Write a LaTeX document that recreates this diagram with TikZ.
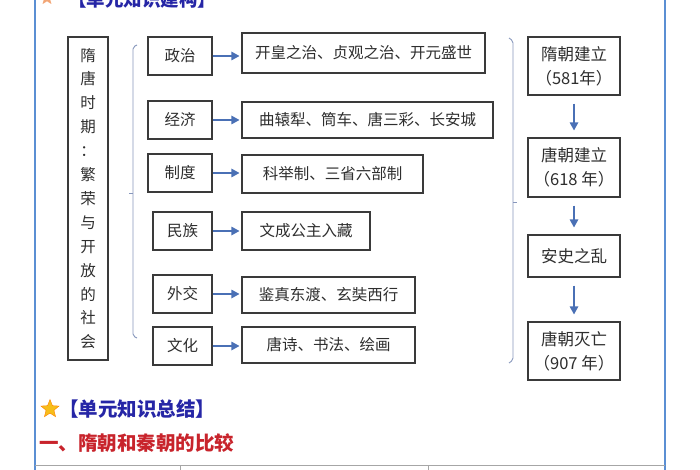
\documentclass[tikz,border=0pt]{standalone}
\usepackage{fontspec}
\usepackage{tikz}
\usetikzlibrary{arrows.meta,positioning,shapes.geometric}
\newfontfamily\cjk{Noto Sans CJK SC}
\definecolor{framebl}{HTML}{5B8FD3}
\definecolor{arrbl}{HTML}{4A70B5}
\definecolor{brkbl}{HTML}{8797BC}
\definecolor{boxgr}{HTML}{3A3A3A}
\definecolor{txtgr}{HTML}{2E2E2E}
\definecolor{headbl}{HTML}{2626A6}
\definecolor{headrd}{HTML}{C8242C}
\definecolor{stargd}{HTML}{F6BE1A}
\definecolor{staror}{HTML}{F2A676}

\begin{document}
\begin{tikzpicture}[x=1pt,y=-1pt,>={Triangle[length=8pt,width=8.5pt]},
		semithick]
		\tikzstyle{box}=[draw=boxgr,line width=1.1pt,fill=white,text=txtgr,inner sep=0pt,
			font=\cjk\fontsize{15.5}{18}\selectfont]
		\tikzstyle{kbox}=[box,minimum height=38pt,minimum width=64pt]
		\tikzstyle{cbox}=[box,minimum height=38pt]
		\tikzstyle{tbox}=[box,minimum width=92pt,align=center,
			font=\cjk\fontsize{16.5}{24}\selectfont]
		\tikzstyle{link}=[->,arrbl,line width=1.2pt,shorten >=2pt]
		\tikzstyle{brace}=[brkbl,line width=0.9pt,rounded corners=2pt]
		\tikzstyle{head}=[anchor=west,inner sep=0pt,font=\cjk\bfseries\fontsize{19.5}{22}\selectfont]
		
		\useasboundingbox (0,0) rectangle (700,470);
		\clip (0,0) rectangle (700,470);
		
		% frame
		\draw[framebl,line width=2pt] (35,0) -- (35,470);
		\draw[framebl,line width=2pt] (665,0) -- (665,470);
		
		\node[star,star point ratio=2.3,fill=staror,minimum size=15pt,inner sep=0pt] (st0) at (47,-2) {};
		\node[head,text=headbl,font=\cjk\bfseries\fontsize{18.5}{22}\selectfont] (h0) at (68,-1) {【单元知识建构】};
		
		% title
		\node[box,minimum width=40pt,minimum height=323pt,align=center,
			font=\cjk\fontsize{15.5}{23.9}\selectfont] (title) at (88,198.5)
			{隋\\唐\\时\\期\\：\\繁\\荣\\与\\开\\放\\的\\社\\会};
		
		\draw[brace] (137,45) -- (133,47) -- (133,336) -- (137,338);
		\draw[brace] (133,193) -- (129,193);
		
		% fields
		\node[kbox] (k1) at (180,56) {政治};
		\node[kbox] (k2) at (180,120) {经济};
		\node[kbox] (k3) at (180,173) {制度};
		\node[kbox,minimum width=59pt] (k4) at (182.5,231) {民族};
		\node[kbox,minimum width=59pt] (k5) at (182.5,294) {外交};
		\node[kbox,minimum width=59pt] (k6) at (182.5,346) {文化};
		
		\node[cbox,minimum width=243pt,minimum height=40pt] (c1) at (363.5,53) {开皇之治、贞观之治、开元盛世};
		\node[cbox,minimum width=251pt,minimum height=36pt] (c2) at (367.5,120) {曲辕犁、筒车、唐三彩、长安城};
		\node[cbox,minimum width=181pt] (c3) at (332.5,174) {科举制、三省六部制};
		\node[cbox,minimum width=128pt] (c4) at (306,231) {文成公主入藏};
		\node[cbox,minimum width=173pt,minimum height=36pt] (c5) at (328.5,295) {鉴真东渡、玄奘西行};
		\node[cbox,minimum width=173pt,minimum height=36pt] (c6) at (328.5,345) {唐诗、书法、绘画};
		
		\path[link]
		(k1.east) edge (k1.east -| c1.west)
		(k2.east) edge (k2.east -| c2.west)
		(k3.east) edge (k3.east -| c3.west)
		(k4.east) edge (k4.east -| c4.west)
		(k5.east) edge (k5.east -| c5.west)
		(k6.east) edge (k6.east -| c6.west);
		
		% timeline
		\draw[brace] (509,38) -- (513,41) -- (513,360) -- (509,363);
		\draw[brace] (513,202) -- (517,202);
		
		\node[tbox,minimum height=58pt] (t1) at (574,66) {隋朝建立\\（581年）};
		\node[tbox,minimum height=59pt] (t2) at (574,167.5) {唐朝建立\\（618 年）};
		\node[tbox,minimum height=42pt] (t3) at (574,256) {安史之乱};
		\node[tbox,minimum height=58pt] (t4) at (574,351) {唐朝灭亡\\（907 年）};
		
		\path[link,shorten <=8pt,shorten >=7pt]
		(t1) edge (t2)
		(t2) edge (t3)
		(t3) edge (t4);
		
		% summary
		\node[star,star point ratio=2.3,fill=stargd,draw=orange,line width=0.4pt,minimum size=19pt,inner sep=0pt] (st1) at (50,409) {};
		\node[head,text=headbl] (h1) at (59,409) {【单元知识总结】};
		\node[head,text=headrd] (h2) at (39,443) {一、隋朝和秦朝的比较};
		
		\draw[gray!70,line width=0.8pt] (35,465) -- (665,465);
		\draw[gray!70,line width=0.8pt] (180,465) -- (180,470);
		\draw[gray!70,line width=0.8pt] (428,465) -- (428,470);
		\end{tikzpicture}
\end{document}
